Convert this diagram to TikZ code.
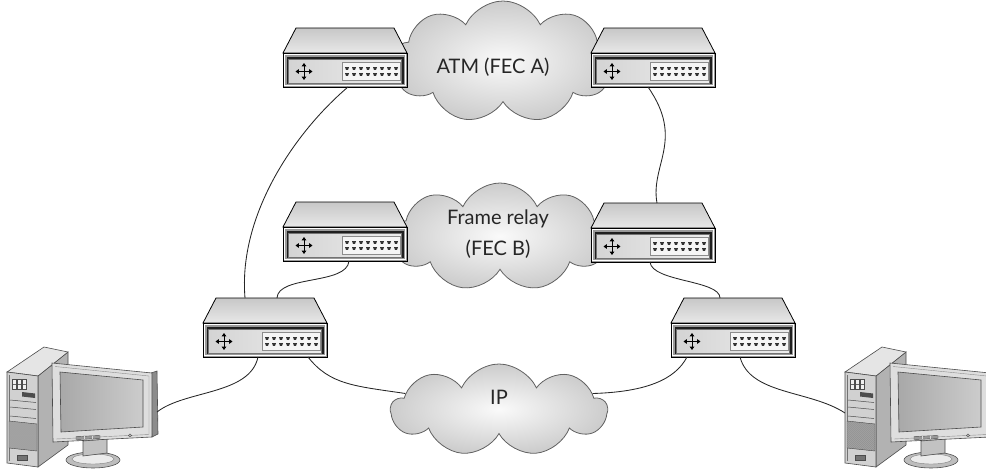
\documentclass[tikz,border=0pt]{standalone}
\usepackage{fontspec}
\setmainfont{Lato}
\usetikzlibrary{shapes.symbols,arrows.meta,calc}

\tikzset{
  link/.style={line width=0.85pt, draw=black!85},
  pcline/.style={draw=black!70, line width=0.6pt},
  netcloud/.style={cloud, cloud puffs=9, cloud puff arc=130, cloud ignores aspect,
    draw=black!62, line width=0.8pt, inner color=black!2, outer color=black!20, inner sep=0pt},
  cloudtext/.style={font=\fontsize{20}{31}\selectfont, text=black!85, align=center},
  % switch/router box: origin at the top-left corner of the front panel
  pics/router/.style={code={
    \draw[line width=0.8pt, top color=black!22, bottom color=black!9]
      (0,0) -- (13,-25) -- (111,-25) -- (124,0) -- cycle;
    \draw[line width=0.9pt, fill=black!40] (0,0) rectangle (124,34);
    \draw[white, line width=0.5pt] (1.6,1.6) rectangle (122.4,32.4);
    \fill[black!88] (4,3.5) rectangle (121,31);
    \draw[black!55, line width=0.4pt, left color=black!17, right color=black!7] (5,6.5) rectangle (118.5,30);
    \foreach \a in {0,90,180,270}
      \draw[line width=1pt, -{Triangle[length=3.4pt,width=4.6pt]}] (21,18.5) -- ++(\a:8.5);
    \draw[black!45, line width=0.4pt, fill=black!4] (59,9.5) rectangle (117,27.5);
    \foreach \i in {0,...,7} \foreach \j in {15.5,21.5}
      \fill[black!80] ({64+7*\i-2},\j-1.3) -- ++(4,0) -- ++(-1,2.6) -- ++(-2,0) -- cycle;
    \coordinate (-t) at (62,-25);
    \coordinate (-b) at (62,34);
  }},
  % desktop computer: tower and flat monitor
  pics/computer/.style={code={
    % tower
    \draw[pcline, fill=black!30] (38,376) -- (68,352) -- (68,445) -- (38,467) -- cycle;
    \draw[pcline, fill=black!10] (7,372) -- (44,347) -- (68,352) -- (38,376) -- cycle;
    \draw[pcline, fill=black!18] (7,372) -- (38,376) -- (38,467) -- (7,463) -- cycle;
    \draw[black!55, line width=0.4pt] (9.5,375) -- (9.5,461);
    \foreach \x in {12,17,22} {
      \draw[pcline, line width=0.4pt, fill=black!6] (\x,379.5) rectangle ++(4.5,10);
      \draw[black!60, line width=0.4pt] (\x+1,384.5) -- ++(2.5,0);
    }
    \fill[black!70] (22,392) -- (35,393.5) -- (35,398) -- (22,396.5) -- cycle;
    \draw[pcline, line width=0.5pt] (10,400) -- (36,402.5);
    \draw[pcline, line width=0.5pt] (10,407) -- (36,409.5);
    \draw[pcline, line width=0.5pt] (10,416) -- (36,418.5);
    \begin{scope}
      \clip (9,421) -- (37,424) -- (37,451) -- (9,448) -- cycle;
      \fill[black!60] (9,421) rectangle (37,451);
      \foreach \k in {0,2,...,60} {
        \draw[black!25, line width=0.35pt] (9+\k-30,421) -- ++(30,30);
        \draw[black!25, line width=0.35pt] (9+\k,421) -- ++(-30,30);
      }
    \end{scope}
    \draw[pcline, line width=0.4pt] (9,421) -- (37,424) -- (37,451) -- (9,448) -- cycle;
    \draw[pcline, line width=0.4pt, fill=black!55] (17,455) rectangle (27,460.5);
    % stand
    \draw[pcline, fill=black!26] (93,460) ellipse [x radius=27, y radius=8];
    \draw[black!50, line width=0.4pt, fill=black!8] (93,459) ellipse [x radius=21, y radius=5];
    \draw[pcline, fill=black!24] (83,441) -- (107,439) -- (107,453) -- (83,456) -- cycle;
    % monitor
    \draw[pcline, fill=black!45] (151,373) -- (157,371) -- (158,434) -- (152,437) -- cycle;
    \draw[pcline, fill=black!13] (52,363) -- (152,373) -- (152,437) -- (53,442) -- cycle;
    \draw[black!45, line width=0.4pt] (55,366.5) -- (149,376) -- (149,434.5) -- (56,439);
    \draw[pcline, left color=black!34, right color=black!20]
      (60,372) -- (143,380) -- (143,427) -- (61,432) -- cycle;
    \draw[pcline, line width=0.4pt, fill=black!40] (76,436.5) -- (100,435.5) -- (100,438.5) -- (76,439.5) -- cycle;
    \draw[black!15, line width=0.4pt] (84,436) -- (84,439.2) (92,435.7) -- (92,438.9);
    \draw[pcline, line width=0.4pt, fill=black!30] (130,435.5) circle [radius=1.6];
    \coordinate (-mon) at (157,412);
    \coordinate (-tow) at (7,413);
  }},
}

\begin{document}
\begin{tikzpicture}[x=1pt, y=-1pt]
  \useasboundingbox (0,0) rectangle (986,469);
  \clip (0,0) rectangle (986,469);

  % network clouds
  \node[netcloud, minimum width=222, minimum height=122] (atm) at (503,62) {};
  \node[netcloud, minimum width=218, minimum height=108] (fr) at (500,237) {};
  \node[netcloud, minimum width=216, minimum height=92] (ip) at (499,410) {};

  % switches
  \pic (tl) at (283,53) {router};
  \pic (tr) at (591,53) {router};
  \pic (ml) at (283,227) {router};
  \pic (mr) at (591,228) {router};
  \pic (bl) at (203,323) {router};
  \pic (br) at (671,323) {router};

  % end hosts
  \pic (lpc) at (0,0) {computer};
  \pic (rpc) at (838,0) {computer};

  % cabling
  \draw[link] ([xshift=3pt]tl-b) .. controls (295,132) and (238,215) .. ([xshift=-20pt]bl-t);
  \draw[link] ([xshift=4pt]ml-b) .. controls (347,285) and (278,275) .. ([xshift=12pt]bl-t);
  \draw[link] ([xshift=-7pt]bl-b) .. controls (250,395) and (185,390) .. (lpc-mon);
  \draw[link] ([xshift=43pt]bl-b) .. controls (330,385) and (355,386) .. (ip.170);
  \draw[link] (ip.10) .. controls (645,392) and (675,380) .. ([xshift=-46pt]br-b);
  \draw[link] ([xshift=7pt]br-b) .. controls (750,395) and (810,390) .. (rpc-tow);
  \draw[link] ([xshift=-3pt]mr-b) .. controls (652,282) and (720,280) .. ([xshift=-13pt]br-t);
  \draw[link] ([xshift=-5pt]tr-b) .. controls (685,140) and (650,165) .. ([xshift=4pt]mr-t);

  % cloud labels
  \node[cloudtext] (atmlabel) at (493,67) {ATM (FEC A)};
  \node[cloudtext] (frlabel) at (498,234) {Frame relay\\(FEC B)};
  \node[cloudtext] (iplabel) at (499,397) {IP};
\end{tikzpicture}
\end{document}
